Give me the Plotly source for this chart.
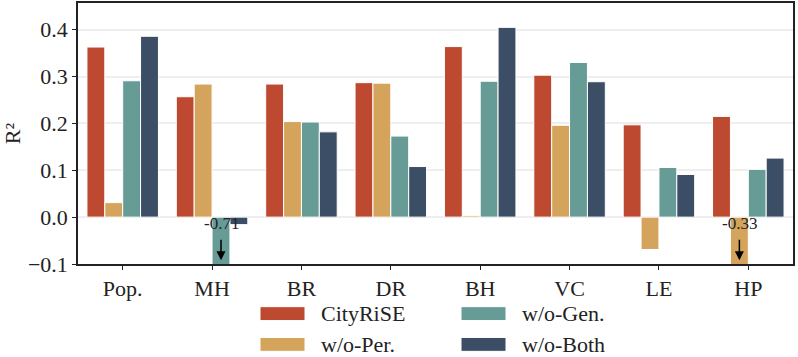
import plotly.graph_objects as go

categories = ["Pop.", "MH", "BR", "DR", "BH", "VC", "LE", "HP"]
cityrise = [0.363, 0.257, 0.284, 0.287, 0.364, 0.303, 0.197, 0.215]
wo_per = [0.031, 0.284, 0.204, 0.286, 0.003, 0.196, -0.069, -0.33]
wo_gen = [0.291, -0.71, 0.203, 0.173, 0.290, 0.330, 0.106, 0.102]
wo_both = [0.386, -0.016, 0.182, 0.108, 0.405, 0.289, 0.091, 0.126]

series = [
    ("CityRiSE", cityrise, "#BD4A30"),
    ("w/o-Per.", wo_per, "#D4A45C"),
    ("w/o-Gen.", wo_gen, "#669B96"),
    ("w/o-Both", wo_both, "#3C4E65"),
]

FONT = "Liberation Serif"

fig = go.Figure()
for name, vals, col in series:
    fig.add_trace(go.Bar(
        x=categories, y=vals, name=name,
        marker=dict(color=col, line=dict(color="white", width=1)),
        showlegend=False,
    ))

fig.update_layout(
    width=798, height=357,
    barmode="group", bargap=0.2, bargroupgap=0,
    plot_bgcolor="white", paper_bgcolor="white",
    margin=dict(l=78, r=5, t=1, b=93),
    font=dict(family=FONT, size=22, color="#222222"),
)
fig.update_xaxes(
    showline=True, linecolor="#222222", linewidth=1.5, mirror=True,
    ticks="outside", ticklen=4, tickcolor="#222222", showgrid=False,
    range=[-0.5, 7.5],
)
fig.update_yaxes(
    range=[-0.1, 0.457], tickvals=[-0.1, 0, 0.1, 0.2, 0.3, 0.4], tickformat=".1f",
    showline=True, linecolor="#222222", linewidth=1.5, mirror=True,
    ticks="outside", ticklen=4, tickcolor="#222222",
    showgrid=True, gridcolor="#EEEEEE", gridwidth=1.5, zeroline=False,
    title=dict(text="R²", font=dict(size=22), standoff=8),
)

# clipped-value labels with downward arrows
for xi, label in [(1.1, "-0.71"), (6.9, "-0.33")]:
    fig.add_annotation(x=xi, y=-0.014, text=label, showarrow=False,
                       font=dict(size=17, color="#222222"))
    fig.add_annotation(x=xi, y=-0.092, ax=xi, ay=-0.045, axref="x", ayref="y",
                       text="", showarrow=True, arrowhead=2, arrowsize=1.2,
                       arrowwidth=1.5, arrowcolor="black")

# legend drawn as two columns below the plot
legend_pos = [(260, 314), (260, 345), (461, 314), (461, 345)]
for (name, vals, col), (px0, py) in zip(series, legend_pos):
    fig.add_shape(type="rect", xref="paper", yref="paper",
                  x0=(px0 - 78) / 715, x1=(px0 + 45 - 78) / 715,
                  y0=(264 - py - 7) / 263, y1=(264 - py + 7) / 263,
                  fillcolor=col, line=dict(color="white", width=1))
    fig.add_annotation(xref="paper", yref="paper", x=(px0 + 60 - 78) / 715,
                       y=(264 - py) / 263, text=name, showarrow=False,
                       xanchor="left", yanchor="middle", borderpad=0,
                       font=dict(size=22, color="#222222"))

fig.write_html("out.html", config={"displayModeBar": False},
               post_script="document.body.style.margin='0';")
